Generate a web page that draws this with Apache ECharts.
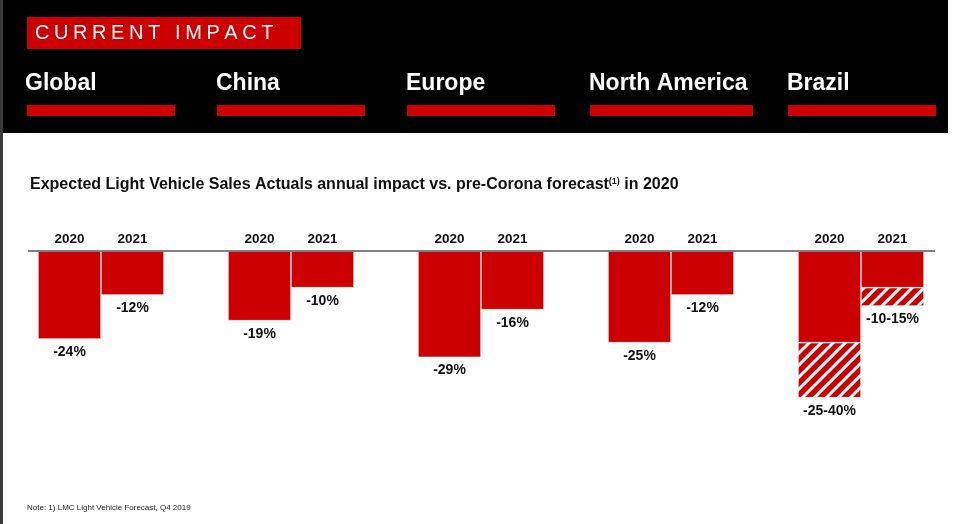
<!DOCTYPE html>
<html lang="en">
<head>
	<meta charset="UTF-8">
	<title>Current impact</title>
	<style>
		html, body { margin: 0; padding: 0; background: #fff; }
	</style>
</head>
<body>
	<div id="main" style="width: 956px;height: 524px"></div>

	<script src="https://cdn.jsdelivr.net/npm/echarts@6/dist/echarts.min.js"></script>
	<script type="text/javascript">

	// data
	var regions = ['Global', 'China', 'Europe', 'North America', 'Brazil'];
	var years = ['2020', '2021'];
	var impact2020 = [-24, -19, -29, -25, -25];   // solid part
	var impact2021 = [-12, -10, -16, -12, -10];
	var range2020 = [0, 0, 0, 0, -15];            // hatched part (Brazil -25..-40)
	var range2021 = [0, 0, 0, 0, -5];             // hatched part (Brazil -10..-15)
	var labels2020 = ['-24%', '-19%', '-29%', '-25%', '-25-40%'];
	var labels2021 = ['-12%', '-10%', '-16%', '-12%', '-10-15%'];

	var RED = '#cc0000';
	var FONT = '"Liberation Sans", Arial, sans-serif';

	// hatch pattern: white / stripes on red
	function hatch() {
		var c = document.createElement('canvas');
		c.width = 12; c.height = 12;
		var g = c.getContext('2d');
		g.fillStyle = RED;
		g.fillRect(0, 0, 12, 12);
		g.strokeStyle = '#fff';
		g.lineWidth = 3;
		g.beginPath();
		g.moveTo(-2, 2); g.lineTo(2, -2);
		g.moveTo(-2, 14); g.lineTo(14, -2);
		g.moveTo(10, 14); g.lineTo(14, 10);
		g.stroke();
		return c;
	}
	var hatchImg = hatch();

	// solid bar shows its label only if there is no hatched range under it
	function solidData(vals, ranges, labels) {
		return vals.map(function (v, i) {
			return { value: v, label: { show: ranges[i] === 0, formatter: labels[i] } };
		});
	}
	function rangeData(ranges, labels) {
		return ranges.map(function (v, i) {
			if (v === 0) return '-';
			return { value: v, label: { show: true, formatter: labels[i] } };
		});
	}

	var valueLabel = {
		position: 'bottom',
		distance: 6,
		color: '#111',
		fontSize: 14,
		fontWeight: 'bold',
		fontFamily: FONT
	};

	// header graphics
	var graphics = [
		{ type: 'rect', shape: { x: 0, y: 0, width: 3, height: 524 }, style: { fill: '#3a3a3a' } },
		{ type: 'rect', shape: { x: 3, y: 0, width: 945, height: 133 }, style: { fill: '#000' } },
		{ type: 'rect', shape: { x: 27, y: 17, width: 274, height: 32 }, style: { fill: RED } },
		// zero line
		{ type: 'rect', shape: { x: 28, y: 250, width: 907, height: 2 }, style: { fill: '#808080' }, z: 10 }
	];

	// letter-spaced "CURRENT IMPACT"
	var head = 'CURRENT IMPACT';
	var ctx = document.createElement('canvas').getContext('2d');
	ctx.font = '20px ' + FONT;
	var natural = ctx.measureText(head).width;
	var spacing = (237 - natural) / (head.length - 1);
	var cx = 35;
	for (var k = 0; k < head.length; k++) {
		graphics.push({
			type: 'text', x: cx, y: 23,
			style: { text: head[k], fill: '#fff', font: '20px ' + FONT }
		});
		cx += ctx.measureText(head[k]).width + spacing;
	}

	var headX = [25, 216, 406, 589, 787];
	var barX = [27, 217, 407, 590, 788];
	var barW = [148, 148, 148, 163, 148];
	for (var i = 0; i < regions.length; i++) {
		graphics.push({
			type: 'text', x: headX[i], y: 72,
			style: { text: regions[i], fill: '#fff', font: 'bold 23px ' + FONT }
		});
		graphics.push({
			type: 'rect', shape: { x: barX[i], y: 105, width: barW[i], height: 11 }, style: { fill: RED }
		});
	}

	graphics.push({
		type: 'text', x: 27, y: 504,
		style: { text: 'Note: 1) LMC Light Vehicle Forecast, Q4 2019', fill: '#222', font: '8px ' + FONT }
	});

	var myChart = echarts.init(document.getElementById('main'));

	var option = {
		backgroundColor: '#fff',
		animation: false,
		title: {
			left: 30,
			top: 177,
			padding: 0,
			text: '{t|Expected Light Vehicle Sales Actuals annual impact vs. pre-Corona forecast}{s|(1)}{t| in 2020}',
			textStyle: {
				rich: {
					t: { fontSize: 16, fontWeight: 'bold', color: '#111', fontFamily: FONT },
					s: { fontSize: 9, fontWeight: 'bold', color: '#111', fontFamily: FONT, verticalAlign: 'top', padding: [0, 0, 6, 0] }
				}
			}
		},
		grid: { left: 6, right: 0, top: 251, bottom: 53 },
		xAxis: {
			type: 'category',
			position: 'top',
			data: regions,
			axisLine: { show: false },
			axisTick: { show: false },
			axisLabel: {
				margin: 5,
				formatter: function () {
					return '{y|' + years[0] + '}{y|' + years[1] + '}';
				},
				rich: {
					y: { width: 63, align: 'center', fontSize: 13.5, fontWeight: 'bold', color: '#111', fontFamily: FONT }
				}
			}
		},
		yAxis: {
			type: 'value',
			min: -60,
			max: 0,
			show: false,
			splitLine: { show: false }
		},
		series: [
			{
				name: '2020', type: 'bar', stack: 'y2020', barWidth: 63, barGap: 0,
				itemStyle: { color: RED, borderColor: '#fff', borderWidth: 0.6 },
				label: valueLabel,
				data: solidData(impact2020, range2020, labels2020)
			},
			{
				name: '2020 range', type: 'bar', stack: 'y2020', barWidth: 63, barGap: 0,
				itemStyle: { color: { image: hatchImg, repeat: 'repeat' }, borderColor: '#fff', borderWidth: 0.6 },
				label: valueLabel,
				data: rangeData(range2020, labels2020)
			},
			{
				name: '2021', type: 'bar', stack: 'y2021', barWidth: 63, barGap: 0,
				itemStyle: { color: RED, borderColor: '#fff', borderWidth: 0.6 },
				label: valueLabel,
				data: solidData(impact2021, range2021, labels2021)
			},
			{
				name: '2021 range', type: 'bar', stack: 'y2021', barWidth: 63, barGap: 0,
				itemStyle: { color: { image: hatchImg, repeat: 'repeat' }, borderColor: '#fff', borderWidth: 0.6 },
				label: valueLabel,
				data: rangeData(range2021, labels2021)
			}
		],
		graphic: graphics
	};

	myChart.setOption(option);
	</script>
</body>
</html>
